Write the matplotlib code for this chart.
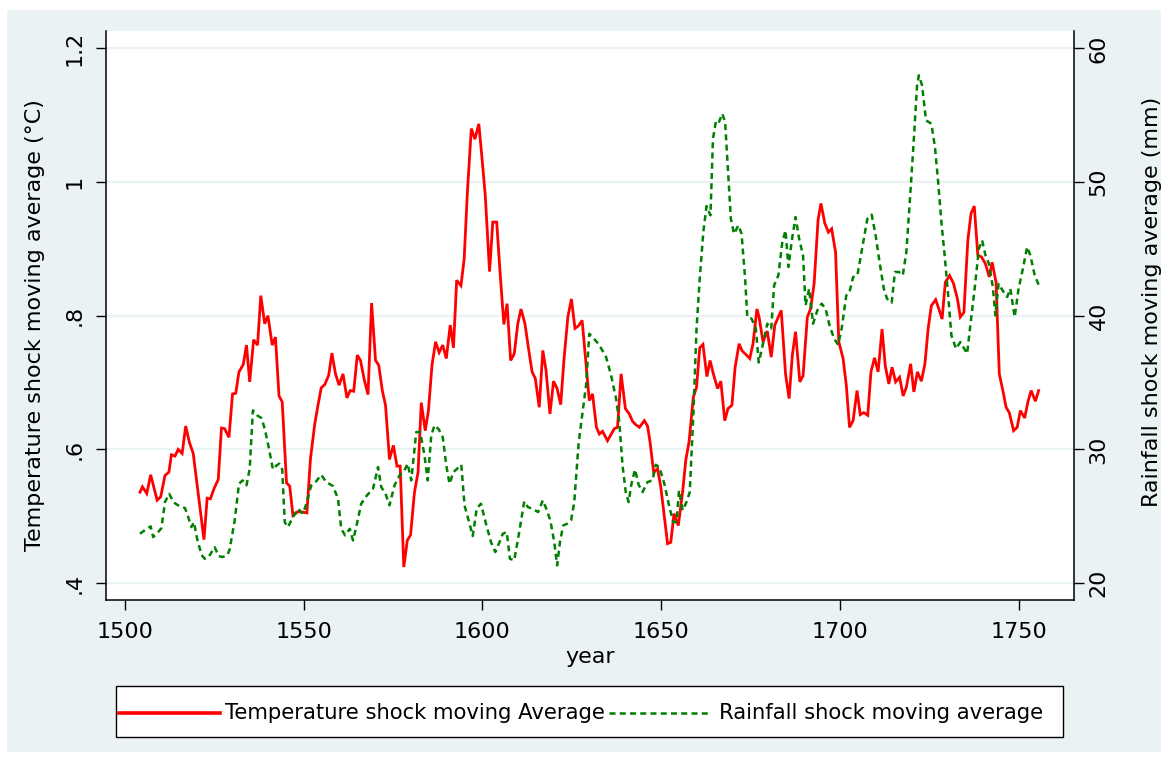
import matplotlib
matplotlib.use("Agg")
import matplotlib.pyplot as plt
from matplotlib.lines import Line2D
from matplotlib.patches import Rectangle

plt.rcParams['font.family'] = ['DejaVu Sans']

# temperature shock moving average (left axis, deg C)
temp_years = [
    1504.2, 1504.9, 1506.1, 1507.2, 1509.0, 1510.0, 1511.2, 1512.3, 1513.0, 1514.0,
    1514.9, 1516.0, 1517.0, 1518.0, 1519.1, 1522.1, 1523.0, 1523.9, 1524.9, 1526.1,
    1527.0, 1527.9, 1529.1, 1530.1, 1531.0, 1531.9, 1533.1, 1534.0, 1534.9, 1536.0,
    1537.1, 1538.0, 1539.1, 1540.0, 1541.2, 1542.1, 1543.1, 1544.0, 1545.2, 1546.1,
    1547.0, 1548.4, 1549.8, 1550.9, 1551.9, 1553.1, 1554.0, 1554.9, 1555.9, 1557.0,
    1557.9, 1558.9, 1559.9, 1561.0, 1562.1, 1563.0, 1564.0, 1565.0, 1565.9, 1567.0,
    1568.0, 1569.0, 1570.1, 1571.0, 1572.0, 1572.9, 1574.0, 1575.1, 1576.1, 1577.0,
    1578.0, 1579.0, 1579.9, 1581.0, 1582.0, 1582.9, 1584.0, 1584.9, 1585.9, 1586.9,
    1587.9, 1588.9, 1589.9, 1591.0, 1591.9, 1592.8, 1594.0, 1594.9, 1595.8, 1596.9,
    1597.9, 1599.0, 1599.9, 1600.8, 1602.0, 1602.9, 1604.0, 1604.9, 1606.0, 1606.9,
    1607.9, 1608.9, 1609.9, 1610.8, 1611.9, 1612.9, 1613.9, 1614.8, 1615.9, 1616.9,
    1617.8, 1618.9, 1619.9, 1620.9, 1621.9, 1622.8, 1623.9, 1624.9, 1625.9, 1626.9,
    1627.9, 1629.0, 1629.9, 1630.8, 1631.9, 1632.7, 1633.6, 1635.0, 1636.9, 1637.8,
    1638.8, 1640.0, 1641.1, 1642.0, 1642.9, 1643.9, 1645.3, 1646.2, 1646.9, 1647.9,
    1649.0, 1649.9, 1651.8, 1652.7, 1653.6, 1654.8, 1656.0, 1656.9, 1657.8, 1659.0,
    1659.9, 1660.8, 1661.7, 1662.8, 1663.7, 1664.6, 1665.8, 1666.7, 1667.8, 1668.7,
    1669.8, 1670.7, 1671.8, 1672.7, 1673.7, 1674.8, 1675.7, 1676.8, 1677.4, 1678.5,
    1679.7, 1680.8, 1681.8, 1683.6, 1684.8, 1685.8, 1686.7, 1687.6, 1688.8, 1689.7,
    1690.9, 1691.8, 1692.8, 1693.9, 1694.7, 1695.8, 1696.8, 1697.7, 1698.8, 1699.7,
    1700.9, 1701.8, 1702.7, 1703.7, 1704.8, 1705.7, 1706.7, 1707.8, 1708.7, 1709.7,
    1710.7, 1711.8, 1712.7, 1713.7, 1714.6, 1715.6, 1716.7, 1717.7, 1718.6, 1719.8,
    1720.7, 1721.7, 1722.8, 1723.8, 1724.7, 1725.6, 1726.8, 1727.7, 1728.6, 1729.5,
    1730.7, 1731.8, 1732.9, 1733.7, 1734.7, 1735.8, 1736.7, 1737.6, 1738.6, 1739.6,
    1740.7, 1741.8, 1742.6, 1743.7, 1744.6, 1745.6, 1746.5, 1747.4, 1748.6, 1749.6,
    1750.5, 1751.7, 1752.6, 1753.5, 1754.7, 1755.6,
]
temp_values = [
    .536, .544, .534, .562, .524, .529, .561, .566, .592, .590,
    .600, .594, .635, .611, .594, .465, .527, .526, .541, .555,
    .632, .631, .618, .683, .684, .716, .727, .756, .701, .764,
    .756, .830, .788, .800, .756, .768, .680, .671, .550, .545,
    .501, .507, .506, .505, .586, .638, .666, .692, .697, .711,
    .744, .713, .696, .713, .677, .688, .687, .741, .733, .703,
    .682, .819, .733, .726, .688, .666, .585, .606, .575, .575,
    .424, .464, .472, .536, .566, .670, .628, .658, .726, .761,
    .745, .756, .736, .786, .752, .853, .845, .885, .985, 1.080,
    1.064, 1.087, 1.035, .980, .866, .940, .940, .868, .787, .818,
    .733, .743, .788, .810, .788, .751, .716, .706, .663, .748,
    .718, .653, .702, .691, .667, .733, .798, .825, .781, .785,
    .793, .726, .673, .683, .633, .623, .627, .613, .631, .633,
    .713, .661, .653, .642, .637, .633, .643, .635, .611, .566,
    .571, .544, .459, .461, .504, .486, .536, .584, .611, .678,
    .693, .752, .757, .709, .733, .713, .691, .702, .643, .661,
    .666, .723, .758, .747, .742, .736, .758, .810, .798, .761,
    .777, .738, .786, .808, .713, .676, .741, .776, .701, .710,
    .798, .810, .848, .943, .968, .938, .925, .930, .895, .761,
    .736, .696, .633, .643, .688, .652, .655, .651, .716, .737,
    .716, .780, .725, .698, .723, .701, .708, .680, .693, .728,
    .686, .716, .702, .728, .781, .815, .824, .810, .795, .850,
    .860, .848, .825, .798, .805, .913, .953, .964, .890, .888,
    .878, .858, .880, .850, .713, .688, .663, .655, .628, .633,
    .658, .647, .671, .688, .672, .688,
]

# rainfall shock moving average (right axis, mm)
rain_years = [
    1504.2, 1506.1, 1507.2, 1507.9, 1509.3, 1510.2, 1511.2, 1512.4, 1513.5, 1514.9,
    1516.8, 1517.7, 1518.6, 1519.3, 1520.2, 1521.4, 1522.3, 1523.4, 1525.1, 1526.2,
    1527.3, 1528.6, 1529.3, 1530.7, 1531.9, 1532.9, 1534.0, 1534.9, 1535.8, 1537.0,
    1538.2, 1539.1, 1540.3, 1541.4, 1542.4, 1543.2, 1544.0, 1544.7, 1545.6, 1547.0,
    1548.4, 1549.8, 1550.9, 1552.1, 1553.5, 1554.9, 1556.3, 1558.2, 1559.6, 1560.5,
    1561.6, 1562.9, 1563.8, 1564.7, 1566.1, 1567.7, 1569.4, 1570.8, 1571.7, 1572.9,
    1574.0, 1575.4, 1576.8, 1578.2, 1579.1, 1580.1, 1581.5, 1582.6, 1583.8, 1584.7,
    1585.7, 1586.6, 1587.8, 1588.9, 1589.9, 1590.8, 1591.9, 1594.1, 1595.0, 1596.4,
    1597.3, 1598.4, 1599.6, 1601.0, 1602.4, 1603.6, 1604.8, 1605.7, 1606.8, 1607.7,
    1608.9, 1610.3, 1611.7, 1612.7, 1613.9, 1615.6, 1616.9, 1617.8, 1619.0, 1620.1,
    1620.9, 1621.7, 1622.6, 1623.7, 1624.8, 1625.7, 1626.9, 1627.9, 1629.0, 1629.9,
    1630.8, 1632.6, 1634.6, 1636.0, 1637.4, 1638.3, 1639.2, 1640.1, 1640.9, 1641.7,
    1642.7, 1643.7, 1644.8, 1646.2, 1647.6, 1648.5, 1649.5, 1650.9, 1652.3, 1653.4,
    1654.3, 1655.0, 1656.0, 1657.1, 1658.0, 1659.0, 1659.9, 1660.8, 1661.8, 1662.7,
    1663.8, 1664.5, 1665.3, 1666.0, 1667.1, 1667.9, 1668.5, 1669.5, 1670.4, 1671.6,
    1672.5, 1673.5, 1674.1, 1675.3, 1676.5, 1677.3, 1678.3, 1679.7, 1680.8, 1681.6,
    1682.8, 1683.9, 1684.8, 1685.6, 1686.5, 1687.6, 1688.6, 1689.7, 1690.4, 1691.4,
    1692.5, 1693.7, 1694.9, 1696.0, 1697.1, 1698.4, 1699.5, 1700.5, 1701.8, 1702.7,
    1703.7, 1704.9, 1706.3, 1707.7, 1708.9, 1710.0, 1711.1, 1712.3, 1713.2, 1714.5,
    1715.4, 1716.5, 1717.6, 1718.6, 1719.8, 1720.7, 1721.6, 1722.1, 1723.0, 1724.1,
    1725.6, 1726.6, 1727.5, 1728.4, 1729.4, 1730.3, 1731.2, 1732.5, 1733.7, 1735.6,
    1736.5, 1737.7, 1738.9, 1739.8, 1740.7, 1741.7, 1742.8, 1743.5, 1744.4, 1745.8,
    1746.8, 1747.7, 1748.9, 1750.0, 1751.2, 1752.4, 1753.3, 1754.5, 1755.6,
]
rain_values = [
    23.69, 24.06, 24.24, 23.44, 23.82, 24.11, 26.06, 26.68, 26.06, 25.81,
    25.61, 24.94, 24.19, 24.56, 23.32, 22.12, 21.82, 21.95, 22.69, 22.02,
    21.95, 22.07, 22.52, 24.69, 27.43, 27.68, 27.31, 28.55, 32.92, 32.54,
    32.34, 31.55, 30.05, 28.50, 28.80, 28.93, 28.50, 24.56, 24.19, 24.94,
    25.56, 25.19, 26.06, 27.31, 27.61, 28.10, 27.56, 27.26, 26.31, 24.06,
    23.57, 24.06, 23.19, 24.19, 25.94, 26.56, 27.06, 28.68, 27.18, 26.68,
    25.81, 27.31, 28.05, 28.43, 28.93, 27.68, 31.30, 31.30, 29.55, 27.68,
    31.05, 31.80, 31.50, 30.92, 28.80, 27.43, 28.30, 28.85, 25.81, 24.44,
    23.52, 25.56, 25.94, 24.44, 23.07, 22.32, 23.07, 23.69, 23.82, 21.82,
    21.70, 23.82, 26.11, 25.69, 25.56, 25.31, 26.19, 25.61, 24.69, 23.07,
    21.32, 23.07, 24.31, 24.44, 24.69, 26.06, 30.42, 32.54, 34.79, 38.65,
    38.40, 37.85, 36.91, 35.54, 33.79, 32.04, 28.80, 26.81, 26.06, 27.43,
    28.50, 27.36, 26.81, 27.56, 27.68, 28.85, 28.68, 27.43, 25.69, 24.56,
    24.56, 26.93, 25.44, 26.06, 26.81, 32.54, 39.03, 42.77, 46.26, 48.20,
    47.51, 53.24, 54.49, 54.36, 55.11, 54.49, 51.75, 47.26, 46.13, 46.76,
    46.13, 42.77, 39.90, 39.78, 39.03, 36.50, 37.66, 39.40, 39.03, 42.27,
    43.02, 45.51, 46.38, 43.64, 45.51, 47.38, 45.76, 44.51, 40.77, 42.02,
    39.40, 40.40, 40.90, 40.52, 39.28, 38.28, 37.83, 39.03, 41.52, 41.77,
    42.89, 43.02, 45.14, 47.26, 47.56, 46.01, 44.01, 42.02, 41.27, 40.97,
    43.27, 43.27, 43.02, 44.76, 49.50, 53.24, 57.23, 57.98, 57.23, 54.61,
    54.36, 52.62, 50.00, 47.01, 44.26, 41.52, 38.53, 37.53, 38.03, 37.16,
    39.28, 42.02, 45.01, 45.64, 44.56, 43.89, 42.14, 40.02, 42.39, 41.77,
    41.40, 42.02, 39.90, 42.02, 43.52, 45.14, 44.51, 43.02, 42.32,
]

x_ticks = [1500, 1550, 1600, 1650, 1700, 1750]
left_ticks = [0.4, 0.6, 0.8, 1.0, 1.2]
left_labels = ['.4', '.6', '.8', '1', '1.2']
right_ticks = [20, 30, 40, 50, 60]

W, H = 1168, 758
bg = '#eaf2f3'


def fx(px):
    return px / W


def fy(py):
    return 1 - py / H


fig = plt.figure(figsize=(W / 100, H / 100), dpi=100, facecolor='white')
fig.patches.append(Rectangle((fx(7), fy(752)), fx(1161) - fx(7), fy(10) - fy(752),
                             transform=fig.transFigure, facecolor=bg, edgecolor='none', zorder=-5))

ax = fig.add_axes([fx(106), fy(600), fx(1074) - fx(106), fy(31) - fy(600)])
ax.set_facecolor('white')
ax.plot(temp_years, temp_values, color='#ff0000', lw=2.0, solid_joinstyle='miter')
ax.set_xlim(1494.7, 1765.5)
ax.set_ylim(0.3747, 1.2259)
ax.set_yticks(left_ticks)
ax.set_yticklabels(left_labels)
ax.set_xticks(x_ticks)
for t in left_ticks:
    ax.axhline(t, color=bg, lw=1.6, zorder=0)

ax2 = ax.twinx()
ax2.plot(rain_years, rain_values, color='#008000', lw=1.8, dashes=(2.4, 1.7))
ax2.set_ylim(20 + (0.3747 - 0.4) * 50, 20 + (1.2259 - 0.4) * 50)
ax2.set_yticks(right_ticks)

for s in ['top', 'right']:
    ax.spines[s].set_visible(False)
for s in ['top', 'left', 'bottom']:
    ax2.spines[s].set_visible(False)
for sp in [ax.spines['left'], ax.spines['bottom'], ax2.spines['right']]:
    sp.set_linewidth(1.1)
    sp.set_color('black')

ax.tick_params(axis='x', length=7.5, width=1, labelsize=16, pad=8)
ax.tick_params(axis='y', length=7.5, width=1, labelsize=16, pad=8, labelrotation=90)
ax2.tick_params(axis='y', length=7.5, width=1, labelsize=16, pad=3, labelrotation=90)
for lbl in ax.get_yticklabels() + ax2.get_yticklabels():
    lbl.set_va('center')

ax.set_xlabel('year', fontsize=16, labelpad=4)
ax.set_ylabel('Temperature shock moving average (°C)', fontsize=16, labelpad=14)
ax2.set_ylabel('Rainfall shock moving average (mm)', fontsize=16, labelpad=24, rotation=90)
ax.yaxis.label.set_y(0.483)
ax2.yaxis.label.set_y(0.524)

# legend box
fig.patches.append(Rectangle((fx(116), fy(737)), fx(1063) - fx(116), fy(686) - fy(737),
                             transform=fig.transFigure, facecolor='white', edgecolor='black',
                             lw=1.0, zorder=2))
fig.lines.append(Line2D([fx(119), fx(220)], [fy(713), fy(713)], transform=fig.transFigure,
                        color='#ff0000', lw=2.6, zorder=3))
fig.lines.append(Line2D([fx(609), fx(708)], [fy(713), fy(713)], transform=fig.transFigure,
                        color='#008000', lw=1.8, dashes=(2.4, 1.7), zorder=3))
fig.text(fx(225), fy(713), 'Temperature shock moving Average', fontsize=15.2, va='center', zorder=3)
fig.text(fx(719), fy(713), 'Rainfall shock moving average', fontsize=15.2, va='center', zorder=3)

fig.savefig('out.png', dpi=100, facecolor='white')
